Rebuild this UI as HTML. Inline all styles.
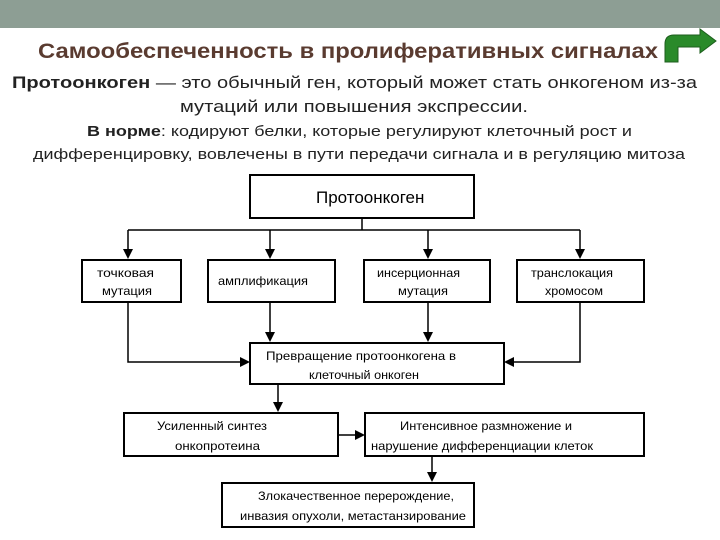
<!DOCTYPE html>
<html><head><meta charset="utf-8"><style>
html,body{margin:0;padding:0;background:#fff;}
svg{display:block;font-family:"Liberation Sans",sans-serif;}
</style></head><body>
<svg width="720" height="540" viewBox="0 0 720 540" xmlns="http://www.w3.org/2000/svg">
<rect x="0" y="0" width="720" height="28" fill="#8d9e94"/>
<text x="38" y="58" font-size="21" font-weight="bold" fill="#5a3b30" textLength="620" lengthAdjust="spacingAndGlyphs">Самообеспеченность в пролиферативных сигналах</text>
<path d="M665 62 L665 44 Q665 35 674 35 L700 35 L700 29 L716 41 L700 53 L700 47 L678 47 L678 62 Z" fill="#2a8a2a" stroke="#1d5e1d" stroke-width="1"/>
<text x="12" y="88" font-size="17" fill="#222" textLength="685" lengthAdjust="spacingAndGlyphs"><tspan font-weight="bold">Протоонкоген</tspan> — это обычный ген, который может стать онкогеном из-за</text>
<text x="180" y="112" font-size="17" fill="#222" textLength="348" lengthAdjust="spacingAndGlyphs">мутаций или повышения экспрессии.</text>
<text x="87" y="136" font-size="15" fill="#222" textLength="545" lengthAdjust="spacingAndGlyphs"><tspan font-weight="bold">В норме</tspan>: кодируют белки, которые регулируют клеточный рост и</text>
<text x="33" y="159" font-size="15" fill="#222" textLength="652" lengthAdjust="spacingAndGlyphs">дифференцировку, вовлечены в пути передачи сигнала и в регуляцию митоза</text>
<g fill="none" stroke="#000" stroke-width="2">
<rect x="250" y="175" width="224" height="43"/>
<rect x="82" y="260" width="99" height="42"/>
<rect x="208" y="260" width="127" height="42"/>
<rect x="364" y="260" width="126" height="42"/>
<rect x="517" y="260" width="127" height="42"/>
<rect x="250" y="343" width="254" height="41"/>
<rect x="124" y="413" width="214" height="43"/>
<rect x="365" y="413" width="279" height="43"/>
<rect x="222" y="483" width="252" height="44"/>
</g>
<g fill="none" stroke="#000" stroke-width="1.5">
<path d="M362 218 V230 M128 230 H580 M128 230 V250 M270 230 V250 M428 230 V250 M580 230 V250"/>
<path d="M128 302 V362 H242 M270 302 V335 M428 302 V335 M580 302 V362 H512"/>
<path d="M278 384 V405 M338 435 H357 M432 456 V475"/>
</g>
<g fill="#000">
<path d="M123 249 L133 249 L128 259 Z"/><path d="M265 249 L275 249 L270 259 Z"/>
<path d="M423 249 L433 249 L428 259 Z"/><path d="M575 249 L585 249 L580 259 Z"/>
<path d="M265 332 L275 332 L270 342 Z"/><path d="M423 332 L433 332 L428 342 Z"/>
<path d="M240 357 L240 367 L250 362 Z"/><path d="M514 357 L514 367 L504 362 Z"/>
<path d="M273 402 L283 402 L278 412 Z"/><path d="M355 430 L355 440 L365 435 Z"/>
<path d="M427 472 L437 472 L432 482 Z"/>
</g>
<g font-size="12" fill="#000">
<text x="316" y="203" font-size="17">Протоонкоген</text>
<text x="97" y="277" textLength="57" lengthAdjust="spacingAndGlyphs">точковая</text>
<text x="102" y="295" textLength="50" lengthAdjust="spacingAndGlyphs">мутация</text>
<text x="218" y="285" textLength="90" lengthAdjust="spacingAndGlyphs">амплификация</text>
<text x="377" y="277" textLength="83" lengthAdjust="spacingAndGlyphs">инсерционная</text>
<text x="398" y="295" textLength="50" lengthAdjust="spacingAndGlyphs">мутация</text>
<text x="531" y="277" textLength="82" lengthAdjust="spacingAndGlyphs">транслокация</text>
<text x="545" y="295" textLength="58" lengthAdjust="spacingAndGlyphs">хромосом</text>
<text x="266" y="360" textLength="190" lengthAdjust="spacingAndGlyphs">Превращение протоонкогена в</text>
<text x="309" y="379" textLength="110" lengthAdjust="spacingAndGlyphs">клеточный онкоген</text>
<text x="157" y="430" textLength="110" lengthAdjust="spacingAndGlyphs">Усиленный синтез</text>
<text x="175" y="450" textLength="85" lengthAdjust="spacingAndGlyphs">онкопротеина</text>
<text x="400" y="430" textLength="172" lengthAdjust="spacingAndGlyphs">Интенсивное размножение и</text>
<text x="371" y="450" textLength="222" lengthAdjust="spacingAndGlyphs">нарушение дифференциации клеток</text>
<text x="258" y="500" textLength="196" lengthAdjust="spacingAndGlyphs">Злокачественное перерождение,</text>
<text x="240" y="520" textLength="226" lengthAdjust="spacingAndGlyphs">инвазия опухоли, метастанзирование</text>
</g>
</svg>
</body></html>
